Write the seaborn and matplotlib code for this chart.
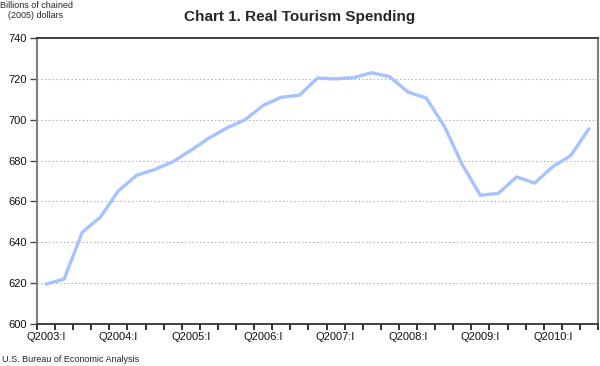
import numpy as np
import pandas as pd
import matplotlib
matplotlib.use("Agg")
import matplotlib.pyplot as plt
import seaborn as sns
from matplotlib.ticker import FixedLocator

years = [2003, 2004, 2005, 2006, 2007, 2008, 2009, 2010]
roman = ["I", "II", "III", "IV"]
quarters = [f"Q{y}:{r}" for y in years for r in roman][:31]
spending = [619.5, 622.0, 644.9, 652.3, 665.2, 672.8, 675.6, 679.4,
            685.0, 691.0, 696.0, 700.0, 707.0, 711.0, 712.0, 720.4,
            720.0, 720.6, 723.0, 721.0, 713.5, 710.7, 697.0, 678.0,
            663.0, 664.0, 672.0, 669.0, 677.0, 682.5, 695.6]
y_ticks = [600, 620, 640, 660, 680, 700, 720, 740]

df = pd.DataFrame({"idx": np.arange(len(quarters)), "quarter": quarters, "value": spending})

sns.set_theme(style="white")
plt.rcParams["font.family"] = ["Liberation Sans", "DejaVu Sans"]

fig = plt.figure(figsize=(6.0, 3.66), dpi=100)
ax = fig.add_axes([37/600, 42/366, 561/600, 286/366])

sns.lineplot(data=df, x="idx", y="value", ax=ax, color="#A6C2FF", linewidth=2.4)

ax.set_xlim(-0.5, len(quarters) - 0.5)
ax.set_ylim(600, 740)
ax.set_yticks(y_ticks)
ax.set_yticklabels([str(v) for v in y_ticks], fontsize=8, color="#111111")
for v in y_ticks[1:-1]:
    ax.axhline(v, color="#A8A8A8", linestyle=(0, (1.2, 2.2)), linewidth=0.8, zorder=0)

label_idx = [i for i, q in enumerate(quarters) if q.endswith(":I")]
ax.set_xticks(label_idx)
ax.set_xticklabels([quarters[i] for i in label_idx], fontsize=8, color="#111111")
ax.tick_params(axis="x", which="major", length=0, pad=6)
ax.xaxis.set_minor_locator(FixedLocator(np.arange(-0.5, len(quarters), 1.0)))
ax.tick_params(axis="x", which="minor", length=4, width=1.3, direction="out", color="#222222", bottom=True)
ax.tick_params(axis="y", which="major", length=5, width=1.0, direction="out", color="#444444", left=True, pad=2)

ax.set_xlabel("")
ax.set_ylabel("")
for side in ["top", "bottom"]:
    ax.spines[side].set_color("#333333")
    ax.spines[side].set_linewidth(1.3)
for side in ["left", "right"]:
    ax.spines[side].set_color("#808080")
    ax.spines[side].set_linewidth(1.5)

fig.text(0.5, 1 - 17/366, "Chart 1. Real Tourism Spending", ha="center", va="center",
         fontsize=11, fontweight="bold")
fig.text(0.0, 1 - 5/366, "Billions of chained", ha="left", va="center", fontsize=6.5)
fig.text(8/600, 1 - 16/366, "(2005) dollars", ha="left", va="center", fontsize=6.5)
fig.text(2/600, 1 - 359/366, "U.S. Bureau of Economic Analysis", ha="left", va="center", fontsize=6.5)

fig.savefig("out.png", dpi=100)
